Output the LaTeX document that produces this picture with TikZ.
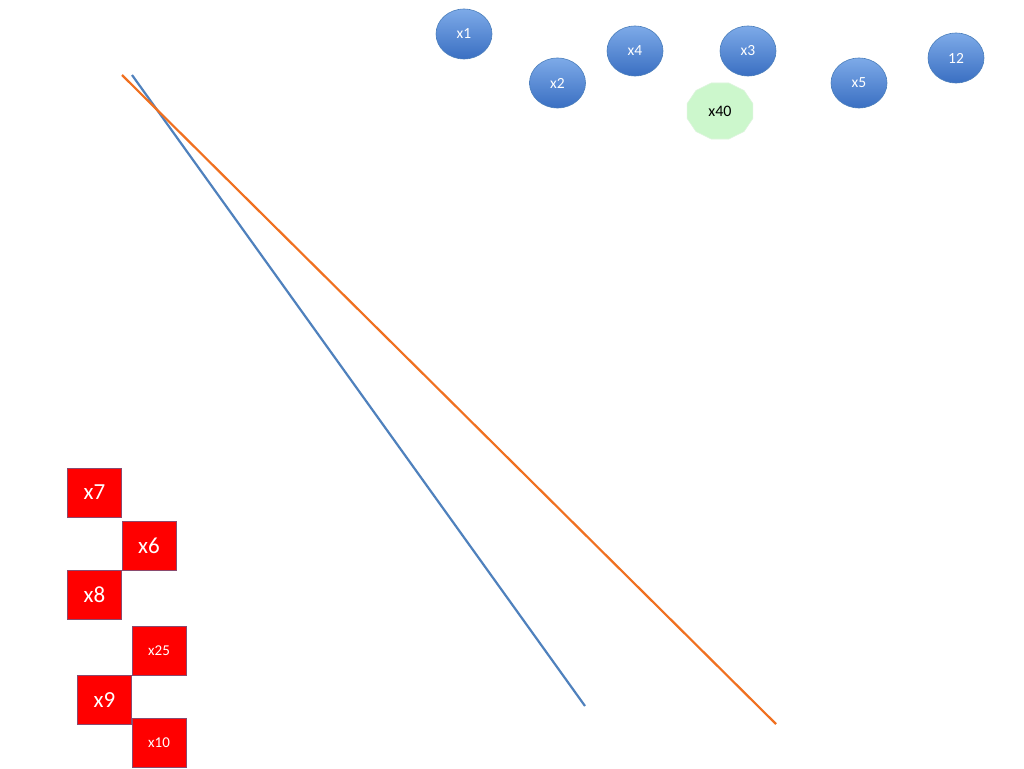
\documentclass[tikz,border=0pt]{standalone}
\usepackage{fontspec}
\setmainfont{Carlito}
\usetikzlibrary{shapes.geometric}
\definecolor{bluetop}{HTML}{7DAAE8}
\definecolor{bluebot}{HTML}{3A6FC2}
\definecolor{blueedge}{HTML}{4A7EBB}
\definecolor{greenfill}{HTML}{CCF7CC}
\definecolor{greenedge}{HTML}{DDF5DD}
\definecolor{redfill}{HTML}{FF0000}
\definecolor{rededge}{HTML}{8A4A6E}
\definecolor{lineblue}{HTML}{4F81BD}
\definecolor{lineorange}{HTML}{F07020}
\begin{document}
\begin{tikzpicture}[x=1pt,y=-1pt,
  bub/.style={ellipse,minimum width=56pt,minimum height=50pt,inner sep=0pt,
    top color=bluetop,bottom color=bluebot,draw=blueedge,line width=0.6pt,
    text=white,font=\fontsize{15.5}{15.5}\selectfont},
  polytxt/.style={ellipse,minimum width=68pt,minimum height=58pt,inner sep=0pt,
    text=black,font=\fontsize{16}{16}\selectfont},
  polyshape/.style={fill=greenfill,draw=greenedge,line width=0.6pt},
  rbox/.style={rectangle,minimum width=54pt,minimum height=49pt,inner sep=0pt,
    fill=redfill,draw=rededge,line width=0.8pt,text=white},
  bigt/.style={font=\fontsize{23}{23}\selectfont},
  smallt/.style={font=\fontsize{15}{15}\selectfont},
  ln/.style={line width=2.2pt}]
\useasboundingbox (0,0) rectangle (1024,768);
\fill[white] (0,0) rectangle (1024,768);
% lines
\coordinate (ba) at (132,75);
\coordinate (bb) at (585,706);
\coordinate (oa) at (122,75);
\coordinate (ob) at (776,724);
\draw[ln,lineblue] (ba) -- (bb);
\draw[ln,lineorange] (oa) -- (ob);
% bubbles
\node[bub] (x1) at (464,34) {x1};
\node[bub] (x2) at (557.5,83) {x2};
\node[bub] (x4) at (635,51) {x4};
\node[bub] (x3) at (748,51) {x3};
\node[bub] (x5) at (859,83) {x5};
\node[bub] (n12) at (956,58) {12};
% green polygon
\filldraw[polyshape] plot[samples=12,domain=0:330] ({720+34*cos(\x+15)},{111+29*sin(\x+15)}) -- cycle;
\node[polytxt] (x40) at (720,111) {x40};
% red boxes
\node[rbox,bigt] (x7) at (94.5,492.5) {x7};
\node[rbox,bigt] (x6) at (149,545.5) {x6};
\node[rbox,bigt] (x8) at (94.5,594.5) {x8};
\node[rbox,smallt] (x25) at (159,650.5) {x25};
\node[rbox,bigt] (x9) at (104.5,700) {x9};
\node[rbox,smallt] (x10) at (159,743) {x10};
\end{tikzpicture}
\end{document}
